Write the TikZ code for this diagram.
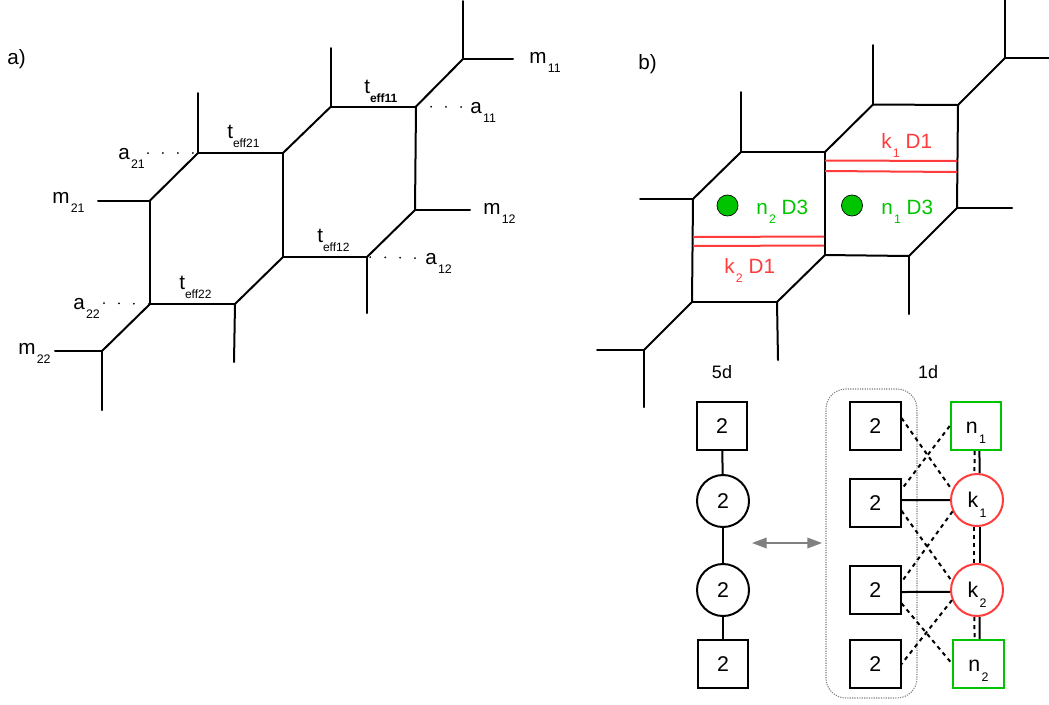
\documentclass[tikz,border=0pt]{standalone}
\usepackage{fontspec}
\usepackage{tikz}
\usetikzlibrary{arrows.meta}
\setmainfont{Liberation Sans}

\newcommand{\mlab}[2]{#1\kern1pt\smash{\raisebox{-7pt}{\fontsize{9.3pt}{9pt}\selectfont #2}}}
\newcommand{\tlab}[1]{t\smash{\raisebox{-6.8pt}{\fontsize{9pt}{9pt}\selectfont #1}}}
\definecolor{branered}{HTML}{FF3B3B}
\definecolor{branegreen}{HTML}{00C400}

\tikzset{
    lbl/.style={anchor=base west, inner sep=0pt, font=\fontsize{15.5pt}{18pt}\selectfont},
    web/.style={line width=1.5pt, line cap=round},
    dots/.style={line width=1.5pt, line cap=round, dash pattern=on 0pt off 11.2pt},
    brane/.style={branered, line width=1.5pt},
    dash1d/.style={line width=1.5pt, dash pattern=on 3pt off 3pt},
    sqbox/.style={draw, line width=1.5pt, inner sep=0pt, minimum width=37.9pt, minimum height=36pt, text height=11.5pt, text depth=0pt, font=\fontsize{16pt}{18pt}\selectfont},
    circ/.style={circle, draw, line width=1.5pt, inner sep=0pt, minimum size=39pt, text height=11.5pt, text depth=0pt, font=\fontsize{16pt}{18pt}\selectfont},
    dimlab/.style={inner sep=0pt, font=\fontsize{13.5pt}{15pt}\selectfont},
    gdot/.style={circle, draw, fill=branegreen, line width=0.5pt, inner sep=0pt, minimum size=15.8pt},
}

\begin{document}
\begin{tikzpicture}[x=0.75pt, y=-0.75pt]
    \useasboundingbox (0,0) rectangle (1049,704);

    \node[lbl] (LA) at (7,64) {a)};
    \node[lbl] (LB) at (638,69) {b)};

    \coordinate (A1) at (198,93);
    \coordinate (A2) at (198,153);
    \coordinate (A3) at (283,153);
    \coordinate (A4) at (150,200.5);
    \coordinate (A5) at (98,200.5);
    \coordinate (A6) at (150,304);
    \coordinate (A7) at (235,304);
    \coordinate (A8) at (283,257);
    \coordinate (A9) at (234,362);
    \coordinate (A10) at (102,351);
    \coordinate (A11) at (55,351);
    \coordinate (A12) at (102,410);
    \coordinate (A13) at (331,106.5);
    \coordinate (A14) at (331,48);
    \coordinate (A15) at (416,106.5);
    \coordinate (A16) at (463,59);
    \coordinate (A17) at (463,1);
    \coordinate (A18) at (513,59);
    \coordinate (A19) at (415,210);
    \coordinate (A20) at (470,210);
    \coordinate (A21) at (367,257);
    \coordinate (A22) at (367,313);

    \draw[web] (A1) -- (A2);
    \draw[web] (A2) -- (A3);
    \draw[web] (A2) -- (A4);
    \draw[web] (A4) -- (A5);
    \draw[web] (A4) -- (A6);
    \draw[web] (A6) -- (A7);
    \draw[web] (A7) -- (A8);
    \draw[web] (A7) -- (A9);
    \draw[web] (A6) -- (A10);
    \draw[web] (A10) -- (A11);
    \draw[web] (A10) -- (A12);
    \draw[web] (A3) -- (A8);
    \draw[web] (A3) -- (A13);
    \draw[web] (A13) -- (A14);
    \draw[web] (A13) -- (A15);
    \draw[web] (A15) -- (A16);
    \draw[web] (A16) -- (A17);
    \draw[web] (A16) -- (A18);
    \draw[web] (A15) -- (A19);
    \draw[web] (A19) -- (A20);
    \draw[web] (A19) -- (A21);
    \draw[web] (A8) -- (A21);
    \draw[web] (A21) -- (A22);

    \coordinate (DA) at (148,153);
    \coordinate (DB) at (104,303);
    \coordinate (DC) at (461,107);
    \coordinate (DD) at (415,258);

    \draw[dots] (DA) -- (A2);
    \draw[dots] (DB) -- (A6);
    \draw[dots] (DC) -- (A15);
    \draw[dots] (DD) -- (A21);

    \node[lbl] (TA) at (364,93) {t\smash{\raisebox{-6.8pt}{\fontsize{9pt}{9pt}\selectfont\bfseries eff11}}};
    \node[lbl] (TB) at (227,138) {\tlab{eff21}};
    \node[lbl] (TC) at (317,242) {\tlab{eff12}};
    \node[lbl] (TD) at (179,289) {\tlab{eff22}};

    \node[lbl] (MA) at (529,63) {\mlab{m}{11}};
    \node[lbl] (MB) at (483,214) {\mlab{m}{12}};
    \node[lbl] (MC) at (52,203) {\mlab{m}{21}};
    \node[lbl] (MD) at (18,354) {\mlab{m}{22}};

    \node[lbl] (AA) at (470,113) {\mlab{a}{11}};
    \node[lbl] (AB) at (425,264) {\mlab{a}{12}};
    \node[lbl] (AC) at (118,159) {\mlab{a}{21}};
    \node[lbl] (AD) at (73,309) {\mlab{a}{22}};

    \coordinate (B1) at (741,92);
    \coordinate (B2) at (741,152);
    \coordinate (B3) at (825,152);
    \coordinate (B4) at (693,199);
    \coordinate (B5) at (640,199);
    \coordinate (B6) at (692,302);
    \coordinate (B7) at (777,302);
    \coordinate (B8) at (825,255);
    \coordinate (B9) at (778,360);
    \coordinate (B10) at (644,350);
    \coordinate (B11) at (597,350);
    \coordinate (B12) at (644,407);
    \coordinate (B13) at (873,104.5);
    \coordinate (B14) at (873,45);
    \coordinate (B15) at (958,105);
    \coordinate (B16) at (1005,58);
    \coordinate (B17) at (1005,0);
    \coordinate (B18) at (1049,58);
    \coordinate (B19) at (957,208);
    \coordinate (B20) at (1012,208);
    \coordinate (B21) at (909,256);
    \coordinate (B22) at (909,314);

    \draw[web] (B1) -- (B2);
    \draw[web] (B2) -- (B3);
    \draw[web] (B2) -- (B4);
    \draw[web] (B4) -- (B5);
    \draw[web] (B4) -- (B6);
    \draw[web] (B6) -- (B7);
    \draw[web] (B7) -- (B8);
    \draw[web] (B7) -- (B9);
    \draw[web] (B6) -- (B10);
    \draw[web] (B10) -- (B11);
    \draw[web] (B10) -- (B12);
    \draw[web] (B3) -- (B8);
    \draw[web] (B3) -- (B13);
    \draw[web] (B13) -- (B14);
    \draw[web] (B13) -- (B15);
    \draw[web] (B15) -- (B16);
    \draw[web] (B16) -- (B17);
    \draw[web] (B16) -- (B18);
    \draw[web] (B15) -- (B19);
    \draw[web] (B19) -- (B20);
    \draw[web] (B19) -- (B21);
    \draw[web] (B8) -- (B21);
    \draw[web] (B21) -- (B22);

    \coordinate (R1) at (825,160.5);
    \coordinate (R2) at (957,161);
    \coordinate (R3) at (825,171);
    \coordinate (R4) at (957,172);
    \coordinate (R5) at (693,237);
    \coordinate (R6) at (824,236.5);
    \coordinate (R7) at (693,246);
    \coordinate (R8) at (824,245.5);

    \draw[brane] (R1) -- (R2);
    \draw[brane] (R3) -- (R4);
    \draw[brane] (R5) -- (R6);
    \draw[brane] (R7) -- (R8);

    \node[gdot] (DOTA) at (727.5,205.5) {};
    \node[gdot] (DOTB) at (852,205.5) {};

    \node[lbl, text=branered] (KTA) at (881,148) {\mlab{k}{1} D1};
    \node[lbl, text=branered] (KTB) at (724,273) {\mlab{k}{2} D1};
    \node[lbl, text=branegreen] (NTA) at (881,214) {\mlab{n}{1} D3};
    \node[lbl, text=branegreen] (NTB) at (756,214) {\mlab{n}{2} D3};

    \node[dimlab] (FIVE) at (722,372) {5d};
    \node[dimlab] (ONE) at (928,372) {1d};

    \node[sqbox] (TOP) at (722,426) {2};
    \node[circ] (CA) at (723,501) {2};
    \node[circ] (CB) at (723,590) {2};
    \node[sqbox] (BOT) at (723,664) {2};

    \draw[web] (TOP) -- (CA);
    \draw[web] (CA) -- (CB);
    \draw[web] (CB) -- (BOT);

    \coordinate (ARL) at (752,543);
    \coordinate (ARR) at (822,543);
    \draw[{Triangle[length=11pt,width=8pt]}-{Triangle[length=11pt,width=8pt]}, line width=1pt, gray] (ARL) -- (ARR);

    \node[draw=gray, line width=0.8pt, dash pattern=on 0.9pt off 0.9pt, rounded corners=15pt, minimum width=68.25pt, minimum height=231.75pt, inner sep=0pt] (GROUP) at (871.5,543.5) {};

    \node[sqbox] (SQA) at (875.25,426) {2};
    \node[sqbox] (SQB) at (875.25,502.75) {2};
    \node[sqbox] (SQC) at (875.25,590) {2};
    \node[sqbox] (SQD) at (875.25,664) {2};

    \node[sqbox, draw=branegreen] (NA) at (976,426) {\mlab{n}{1}};
    \node[circ, draw=branered] (KA) at (977,500) {\mlab{k}{1}};
    \node[circ, draw=branered] (KB) at (977,590) {\mlab{k}{2}};
    \node[sqbox, draw=branegreen] (NB) at (978.5,664) {\mlab{n}{2}};

    \draw[line width=1.5pt] ([yshift=2pt]SQB.east) -- (KA.west);
    \draw[line width=1.5pt] ([yshift=-1.5pt]SQC.east) -- (KB.184);

    \draw[dash1d] ([yshift=6pt]SQA.east) -- (KA.158);
    \draw[dash1d] (NA.west) -- ([yshift=10pt]SQB.east);
    \draw[dash1d] ([yshift=-6pt]SQB.east) -- (KB.160);
    \draw[dash1d] (KA.205) -- ([yshift=6pt]SQC.east);
    \draw[dash1d] ([yshift=-10pt]SQC.east) -- (NB.west);
    \draw[dash1d] (KB.202) -- (SQD.east);

    \draw[line width=1.5pt] ([xshift=2.6pt]NA.south) -- ([xshift=1.9pt]KA.north);
    \draw[dash1d] ([xshift=-1.1pt]NA.south) -- ([xshift=-1.9pt]KA.north);
    \draw[line width=1.5pt] ([xshift=1.9pt]KA.south) -- ([xshift=1.9pt]KB.north);
    \draw[dash1d] ([xshift=-1.9pt]KA.south) -- ([xshift=-1.9pt]KB.north);
    \draw[line width=1.5pt] ([xshift=1.9pt]KB.south) -- ([xshift=0.8pt]NB.north);
    \draw[dash1d] ([xshift=-1.9pt]KB.south) -- ([xshift=-3pt]NB.north);
\end{tikzpicture}
\end{document}
